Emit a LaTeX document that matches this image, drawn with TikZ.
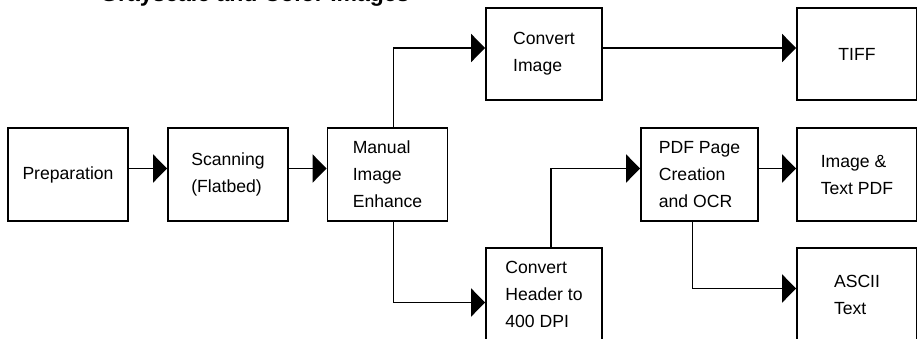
\documentclass[tikz,border=0pt]{standalone}
\usepackage{fontspec}
\setmainfont{Liberation Sans}
\usetikzlibrary{arrows.meta}

\tikzset{
  block/.style={shape=rectangle, draw=black, line width=1.8pt, minimum width=120pt, minimum height=93pt, inner sep=0pt, align=left, font=\fontsize{17.6}{27}\selectfont},
  flow/.style={line width=1.8pt, -{Triangle[length=14pt,width=28pt]}}
}

\begin{document}
\begin{tikzpicture}[x=1pt, y=-1pt]
    \clip (0,0) rectangle (917,339);
    % heading, cut by the top edge
    \node[anchor=base west, inner sep=0pt, font=\fontsize{23}{27}\selectfont\bfseries] (title) at (100,2) {Grayscale and Color Images};

        \node[block] (prep) at (68,174.5) {Preparation};
        \node[block] (scan) at (228,174.5) {Scanning\\(Flatbed)};
        \node[block] (manual) at (387.5,174.5) {Manual\\Image\\Enhance};
        \node[block, minimum width=116pt, minimum height=92pt] (convimg) at (544,54) {Convert\\Image};
        \node[block, minimum width=116pt] (convhdr) at (544,294.5) {Convert\\Header to\\400 DPI};
        \node[block, minimum width=117pt] (pdfpage) at (699.5,174.5) {PDF Page\\Creation\\and OCR};
        \node[block, minimum height=92pt] (tiff) at (857,54) {TIFF};
        \node[block] (textpdf) at (857,174.5) {Image \&\\Text PDF};
        \node[block] (ascii) at (857,294.5) {ASCII\\Text};

    \begin{scope}[every path/.append style={flow}]
        \draw ([yshift=6pt]prep.east) -- ([yshift=6pt]scan.west);
        \draw ([yshift=6pt]scan.east) -- ([yshift=6pt]manual.west);
        \draw ([xshift=6pt]manual.north) |- ([yshift=6pt]convimg.west);
        \draw ([xshift=6pt]manual.south) |- ([yshift=-8pt]convhdr.west);
        \draw ([yshift=6pt]convimg.east) -- ([yshift=6pt]tiff.west);
        \draw ([xshift=7pt]convhdr.north) |- ([yshift=6pt]pdfpage.west);
        \draw ([yshift=6pt]pdfpage.east) -- ([yshift=6pt]textpdf.west);
        \draw ([xshift=-7pt]pdfpage.south) |- ([yshift=6pt]ascii.west);
    \end{scope}

\end{tikzpicture}
\end{document}
